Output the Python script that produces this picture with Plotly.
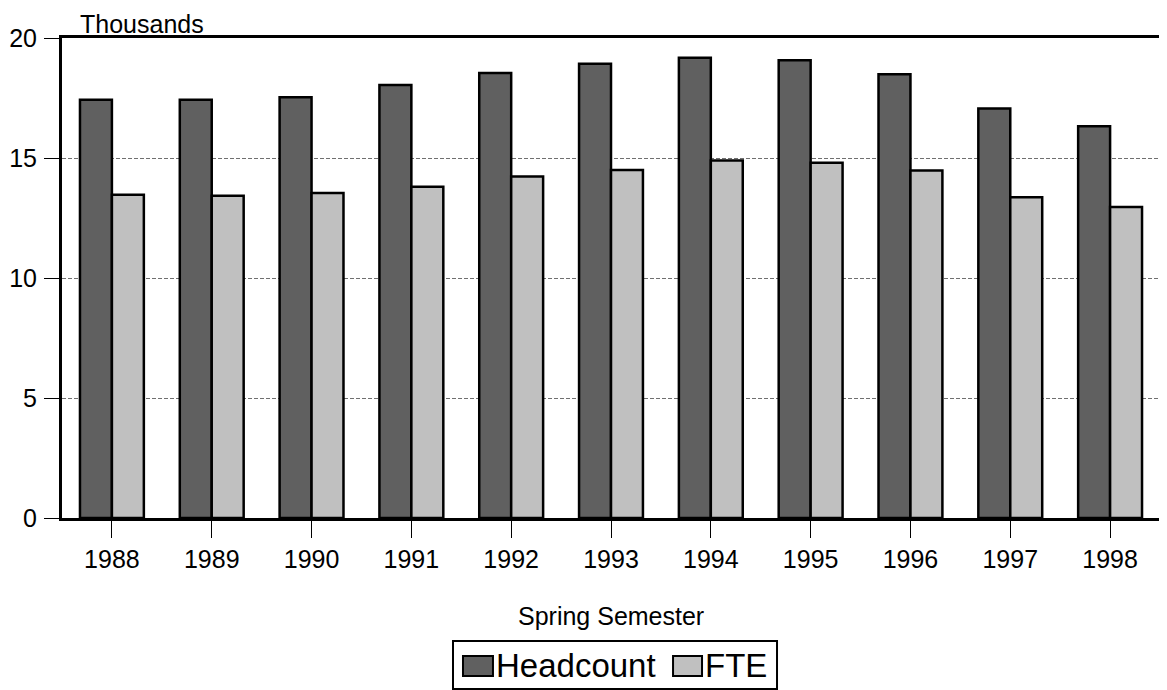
import plotly.graph_objects as go

years = ["1988", "1989", "1990", "1991", "1992", "1993", "1994", "1995", "1996", "1997", "1998"]
headcount = [17.43, 17.43, 17.53, 18.04, 18.54, 18.93, 19.18, 19.07, 18.49, 17.06, 16.32]
fte = [13.47, 13.43, 13.54, 13.80, 14.23, 14.50, 14.90, 14.80, 14.48, 13.36, 12.96]
series = ["Headcount", "FTE"]
colors = ["#606060", "#c0c0c0"]

fig = go.Figure()
for name, vals, col in zip(series, [headcount, fte], colors):
    fig.add_bar(x=years, y=vals, name=name,
                marker=dict(color=col, line=dict(color="black", width=2.5)))

# page body has an 8px margin, so the figure is made 8px smaller and shifted
fig.update_layout(
    width=1159, height=682,
    margin=dict(l=54, r=7, t=30, b=172, autoexpand=False),
    plot_bgcolor="white", paper_bgcolor="white",
    barmode="group", bargap=0.36, bargroupgap=0,
    font=dict(family="Liberation Sans, Arial", size=25, color="black"),
    showlegend=False,
)
fig.update_xaxes(showline=True, linecolor="black", linewidth=3, mirror=True,
                 ticks="outside", ticklen=17, tickcolor="black", tickwidth=1,
                 ticklabelstandoff=0, automargin=False)
fig.update_yaxes(range=[0, 20], dtick=5, showline=True, linecolor="black", linewidth=3,
                 mirror=True, ticks="outside", ticklen=15, tickcolor="black", tickwidth=1,
                 ticklabelstandoff=2, automargin=False,
                 showgrid=True, gridcolor="#707070", griddash="4px,2px", gridwidth=1,
                 zeroline=False)

fig.add_annotation(text="Thousands", x=0.015, xref="paper", y=1.0, yref="paper",
                   xanchor="left", yanchor="bottom", yshift=-2, showarrow=False)
fig.add_annotation(text="Spring Semester", x=0.5, xref="paper", y=-0.205, yref="paper",
                   xanchor="center", yanchor="middle", showarrow=False)

# hand-drawn legend (box, swatches, labels)
fig.add_shape(type="rect", xref="paper", yref="paper",
              x0=0.3561, x1=0.6512, y0=-0.3563, y1=-0.2563,
              line=dict(color="black", width=2), fillcolor="white")
sw_x = [(0.3652, 0.3925), (0.5565, 0.5829)]
lbl_x = [0.3934, 0.5838]
for name, col, (a, b), lx in zip(series, colors, sw_x, lbl_x):
    fig.add_shape(type="rect", xref="paper", yref="paper",
                  x0=a, x1=b, y0=-0.3292, y1=-0.2875,
                  line=dict(color="black", width=2), fillcolor=col)
    fig.add_annotation(text=name, x=lx, xref="paper", y=-0.3083, yref="paper",
                       xanchor="left", yanchor="middle", showarrow=False,
                       font=dict(size=33))

fig.write_html("out.html")
